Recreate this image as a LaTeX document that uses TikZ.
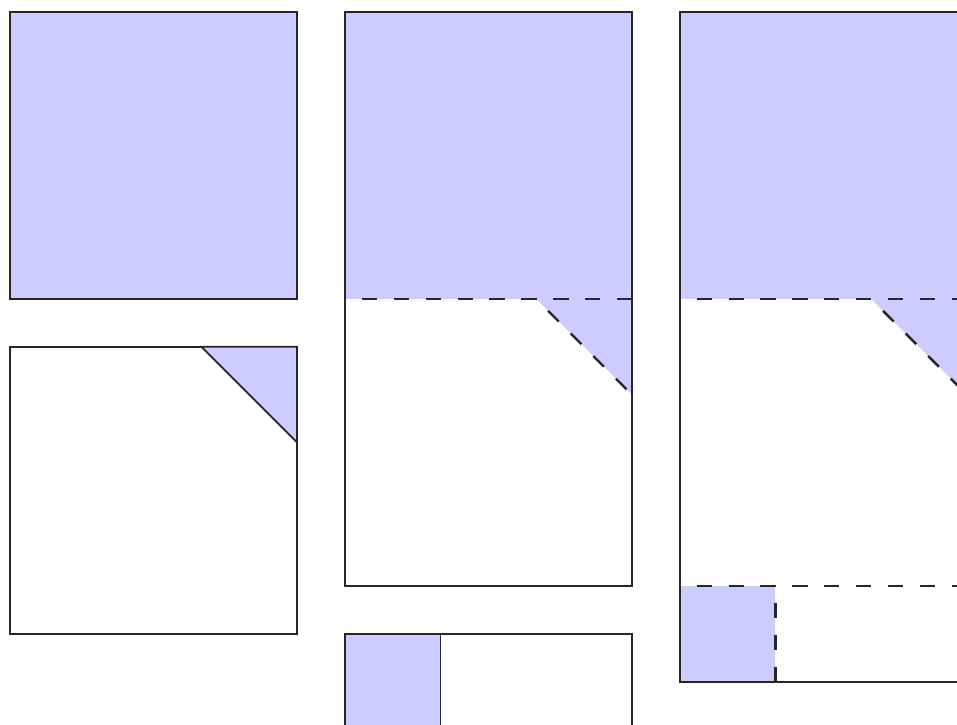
\documentclass[tikz,border=0pt]{standalone}
\usepackage{tikz}

\begin{document}
\begin{tikzpicture}[x=1cm, y=-1cm, line width=0.5pt, draw=black!85,
    shaded/.style={fill=blue!20},
    cutline/.style={line width=0.7pt, dash pattern=on 4.5pt off 5pt, dash phase=4.5pt}]
    \useasboundingbox (-0.105,-0.125) rectangle (9.898,7.453);
    \clip (-0.105,-0.125) rectangle (9.898,7.453);

    % left column
    \draw[shaded] (0,0) rectangle (3,3);
    \draw (0,3.5) rectangle (3,6.5);
    \draw[shaded] (2,3.5) -- (3,3.5) -- (3,4.5) -- cycle;

    % middle column
    \fill[shaded] (3.5,0) -- (6.5,0) -- (6.5,4) -- (5.5,3) -- (3.5,3) -- cycle;
    \draw[cutline] (3.5,3) -- (6.5,3);
    \draw[cutline] (5.5,3) -- (6.5,4);
    \draw (3.5,0) rectangle (6.5,6);
    \draw[shaded] (3.5,6.5) rectangle (4.5,8);
    \draw (3.5,6.5) rectangle (6.5,8);

    % right column
    \fill[shaded] (7,0) -- (10,0) -- (10,4) -- (9,3) -- (7,3) -- cycle;
    \fill[shaded] (7,6) rectangle (8,7);
    \draw[cutline] (7,3) -- (10,3);
    \draw[cutline] (9,3) -- (10,4);
    \draw[cutline] (7,6) -- (10,6);
    \draw[cutline] (8,6) -- (8,7);
    \draw (7,0) rectangle (10,7);
\end{tikzpicture}
\end{document}
